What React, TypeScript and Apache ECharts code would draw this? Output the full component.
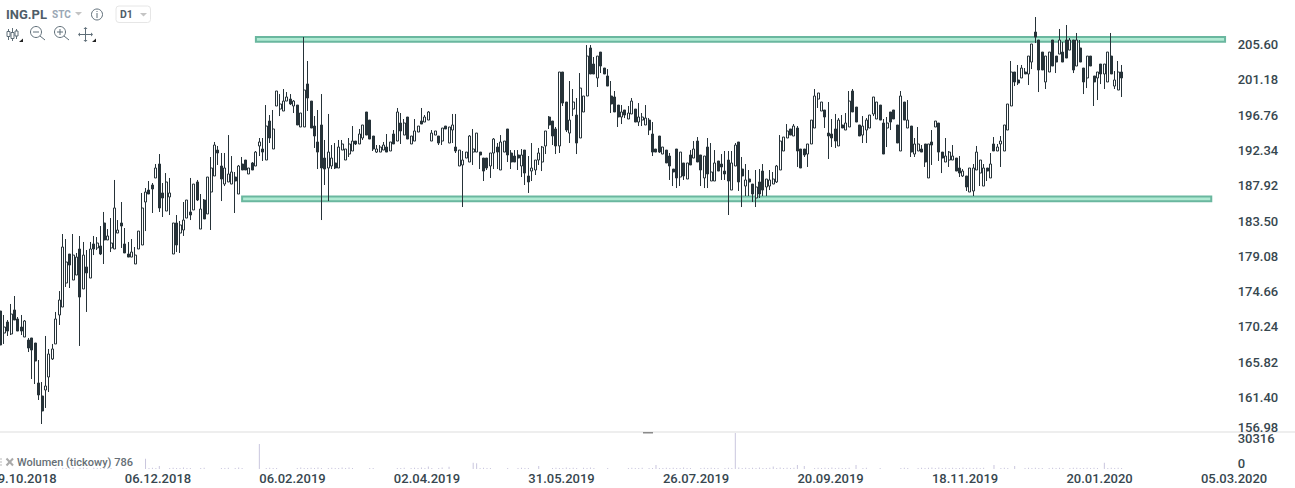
import React, { useEffect, useRef } from "react";
import * as echarts from "echarts";

// Each row: open, close, low, high
const candlesLate2018 = [
[172.23,167.97,167.97,172.23],[169.47,170.22,168.10,171.73],[170.85,169.72,169.10,171.10],[169.35,171.85,169.22,173.11],[172.36,171.10,171.10,174.11],
[171.23,169.72,169.72,171.48],[170.22,169.72,169.22,171.73],[168.97,170.98,168.97,171.10],[168.60,167.59,167.09,168.85],[168.85,167.34,163.71,168.85],
[168.22,165.96,163.08,168.22],[163.21,161.71,161.08,166.09],[161.58,159.70,158.07,163.33],[162.33,162.83,160.08,169.10],[163.96,166.84,162.08,167.47],
[166.22,167.47,166.09,168.10],[168.10,171.23,168.10,172.11],[171.73,173.61,170.48,174.73],[172.73,180.25,172.73,181.88],[175.74,178.37,175.24,181.25],
[179.37,177.99,175.11,179.37],[176.11,179.24,176.11,181.88],[176.74,178.99,176.74,179.50],[180.00,173.98,167.85,181.63],[174.99,179.24,174.99,180.88],
[177.75,177.00,172.11,179.87],[176.36,180.00,176.36,180.88],[180.63,180.00,179.24,181.63],[180.13,180.75,179.87,181.50],[180.38,179.37,179.24,182.88],
[183.26,181.13,178.12,184.64],[181.13,181.63,181.13,182.50],[180.13,180.75,179.62,183.88],[180.00,185.14,180.00,188.65],[182.00,182.38,182.00,183.63],
[183.26,182.88,180.13,185.89],[180.63,179.50,179.50,182.63],[179.37,178.99,178.99,180.88],[178.99,179.62,178.99,181.25],[178.12,179.24,178.12,180.25],
[180.00,182.25,180.00,182.25],[180.50,185.14,180.50,187.02],[185.89,187.14,182.25,187.64],[187.39,186.89,186.89,188.52],[188.02,187.52,184.51,188.27],
[188.90,190.15,188.90,190.65],[190.65,185.14,184.64,191.90],[187.02,186.39,184.01,188.27],[184.76,188.40,184.76,189.52],[186.52,187.02,184.26,188.90],
[179.37,183.26,179.37,183.26],[183.26,180.50,179.62,184.26],[182.00,183.01,179.50,183.51],[182.38,183.63,181.63,185.89],[183.88,186.14,183.88,186.14],
[184.64,184.26,183.63,188.90],[184.89,188.14,184.89,188.14],[188.40,186.14,186.01,188.65],[182.50,185.01,182.50,186.89],[186.14,183.76,183.76,186.26],
[184.39,189.02,184.39,189.02],[187.14,190.15,182.38,191.53],[189.15,193.03,189.15,193.41],[192.40,192.03,190.53,192.91],[190.40,188.77,186.01,192.03],
];
const candlesEarly2019 = [
[188.14,190.15,187.89,192.03],[188.40,189.40,188.40,194.28],[188.14,189.65,188.14,191.65],[189.02,188.52,184.51,189.65],[186.89,190.40,186.89,190.53],
[190.65,189.90,189.90,191.53],[191.15,189.90,189.90,191.15],[189.40,190.15,189.40,190.15],[190.78,189.90,189.90,190.90],[190.40,192.15,190.40,192.28],
[192.91,193.41,191.65,193.91],[192.53,192.15,191.03,193.91],[191.15,195.41,191.15,198.04],[196.04,193.91,193.28,196.79],[192.53,195.04,192.53,197.42],
[197.92,199.80,197.92,199.80],[197.54,198.17,196.66,199.42],[197.29,198.54,197.29,200.05],[198.54,199.05,198.54,199.67],[198.79,198.17,198.04,199.42],
[197.92,198.54,197.04,198.67],[198.04,195.54,195.54,198.04],[195.29,197.04,195.29,197.04],[195.29,199.92,195.29,206.56],[200.68,198.92,197.29,203.56],
[198.54,195.16,195.16,198.54],[195.41,194.16,192.66,196.66],[193.41,192.15,190.02,197.42],[195.54,190.15,183.63,199.42],[191.40,190.02,188.02,193.66],
[190.15,192.15,186.01,196.92],[190.40,191.40,190.02,193.03],[190.78,190.15,190.02,193.28],[190.15,192.78,190.15,193.66],[192.40,193.16,192.40,193.66],
[191.15,192.53,191.15,192.53],[191.90,193.16,191.53,193.91],[192.28,193.53,192.28,195.41],[193.53,193.16,193.03,193.53],[193.16,194.41,193.16,195.04],
[193.91,195.54,193.66,195.54],[197.17,194.28,194.28,197.17],[196.16,193.78,193.78,196.16],[194.16,192.53,192.28,194.16],[192.15,192.53,192.03,193.03],
[192.15,192.78,192.15,193.03],[192.40,193.03,192.40,193.41],[192.78,192.15,192.15,194.41],[192.28,193.41,192.28,193.41],[194.41,193.16,193.16,194.91],
[193.53,197.17,193.53,197.67],[195.79,194.79,193.16,197.04],[194.28,195.79,194.28,196.29],[196.54,193.78,193.78,196.54],[193.16,194.16,193.16,194.16],
[193.53,194.79,193.53,196.29],[194.66,195.41,194.66,195.41],[196.04,195.66,195.66,197.67],[195.91,196.54,195.91,196.79],[196.16,197.17,196.16,197.29],
];
const candlesSpring2019 = [
[193.53,194.53,193.53,194.91],[194.28,194.79,194.28,194.79],[194.16,193.28,193.03,194.16],[193.53,195.16,193.03,195.16],[195.41,195.04,195.04,195.41],
[193.28,195.29,193.28,195.29],[194.91,195.54,193.28,196.92],[192.78,192.28,192.03,196.92],[190.40,192.40,190.40,192.40],[190.53,191.15,185.26,192.28],
[191.40,192.15,191.40,192.15],[190.90,194.16,190.90,194.28],[192.15,192.53,190.53,195.04],[192.15,194.53,192.15,194.53],[192.15,191.78,190.02,192.15],
[191.40,189.77,188.52,191.40],[191.40,190.15,189.90,191.40],[190.40,192.03,188.90,192.03],[192.03,193.78,190.02,193.91],[192.78,192.15,190.02,193.28],
[189.90,193.41,189.90,194.28],[192.15,193.53,192.15,193.53],[195.04,191.78,190.90,195.04],[192.03,190.90,190.02,192.40],[191.65,190.90,190.90,192.40],
[191.78,191.40,189.90,192.40],[190.40,191.78,189.02,192.53],[192.40,189.52,188.02,192.40],[189.15,188.40,187.02,191.65],[189.77,190.15,188.52,193.28],
[189.90,191.15,189.27,191.15],[191.15,192.03,190.53,192.66],[190.90,192.78,189.77,192.91],[192.91,194.79,191.90,194.79],[196.54,195.54,195.04,196.66],
[196.04,194.16,193.03,196.04],[195.04,192.91,191.90,195.29],[192.91,202.18,192.03,202.18],[202.18,198.29,197.92,202.18],[198.42,194.91,194.66,198.42],
[194.53,196.16,193.28,201.05],[197.54,198.42,196.66,200.05],[196.79,193.28,191.90,198.92],[193.91,200.17,193.91,202.05],[197.17,199.17,197.17,199.17],
[199.17,204.18,199.17,205.56],[205.19,201.93,201.93,205.56],[203.18,201.93,201.93,204.06],[201.43,204.18,200.30,204.18],[204.68,202.93,202.05,204.68],
[202.68,201.93,201.93,202.68],[201.68,200.42,200.42,202.55],[199.17,198.17,197.04,201.05],[199.05,197.17,197.17,199.80],[198.04,196.54,195.29,198.04],
];
const candlesSummer2019 = [
[196.54,197.17,195.66,198.04],[197.42,196.79,196.41,197.42],[196.29,197.04,196.29,197.92],[196.92,198.54,196.92,198.92],[197.54,195.91,195.91,197.54],
[195.91,196.54,195.41,198.29],[196.16,196.54,195.41,197.04],[195.54,196.41,195.54,198.04],[196.16,194.91,194.28,196.41],[194.41,192.15,191.65,195.91],
[192.53,192.15,192.15,192.53],[194.16,192.15,192.03,194.16],[191.90,192.78,191.90,192.78],[192.40,190.78,190.78,192.40],[191.65,190.40,188.65,192.03],
[190.02,189.65,187.89,190.02],[192.53,188.90,187.64,192.53],[189.02,192.15,187.89,192.15],[190.78,189.15,188.65,190.78],[188.77,190.78,188.77,190.78],
[191.78,190.53,190.53,192.40],[191.40,192.53,191.40,193.53],[193.53,190.90,190.90,194.03],[191.78,189.90,187.89,191.78],[188.90,191.65,187.64,191.65],
[192.78,189.40,187.64,193.91],[188.52,189.65,188.52,193.28],[188.52,190.78,188.52,192.40],[191.03,189.77,189.77,191.03],[190.65,190.28,188.65,191.90],
[189.77,189.40,188.65,192.28],[191.15,188.52,184.26,192.28],[187.39,190.78,187.39,192.28],[190.40,193.03,190.40,193.28],[193.41,188.40,187.27,193.41],
[190.02,189.15,185.26,191.53],[187.89,188.65,186.64,190.65],[188.77,188.40,186.64,189.90],[188.14,186.89,185.89,188.14],[186.39,187.77,185.26,189.90],
[188.40,186.89,186.39,190.02],[189.77,187.39,186.64,190.65],[187.77,188.77,186.64,188.77],[187.89,188.65,187.39,189.90],[188.14,188.77,188.14,189.65],
[188.40,190.40,188.27,190.53],[189.90,193.53,189.90,194.28],[192.28,194.03,192.28,194.03],[193.91,194.79,193.91,195.66],[195.04,194.28,194.28,195.04],
[194.16,195.41,194.16,195.66],[195.16,192.28,190.28,195.41],[192.53,190.15,190.15,192.53],[192.53,191.78,191.53,192.53],[191.90,193.16,190.28,193.16],
[193.16,196.16,193.16,196.16],[195.16,199.17,195.16,200.05],[198.79,199.55,197.67,199.55],[197.29,198.42,197.29,198.42],[197.42,196.54,195.16,197.42],
];
const candlesAutumn2019 = [
[194.53,194.16,191.28,198.42],[194.41,193.91,192.78,196.29],[195.04,193.53,192.66,196.92],[192.91,196.16,192.91,196.41],[195.54,195.16,195.16,196.79],
[194.91,195.79,194.91,197.04],[195.29,198.54,195.29,199.80],[199.80,197.17,197.17,200.05],[197.79,195.91,195.91,197.79],[195.54,194.16,194.16,195.54],
[194.28,195.41,193.28,196.66],[194.91,196.16,193.28,196.41],[195.16,196.79,195.16,196.79],[196.92,199.05,196.66,199.05],[196.29,198.42,196.29,198.42],
[198.04,196.16,196.16,198.04],[195.79,191.90,191.90,196.29],[195.16,195.79,192.78,196.54],[197.17,195.91,194.91,197.17],[197.42,196.29,196.29,197.42],
[195.54,193.28,193.28,195.54],[192.28,199.17,192.28,199.80],[198.42,196.16,196.16,198.42],[195.16,196.16,195.16,198.67],[195.41,192.15,191.53,195.41],
[191.90,193.16,191.53,193.91],[192.28,193.16,192.28,195.29],[192.53,192.15,192.15,193.03],[193.16,190.90,190.28,193.16],[188.90,193.16,188.90,193.16],
[193.41,193.03,190.53,194.91],[195.29,196.04,195.29,196.04],[195.79,192.15,191.03,195.79],[192.15,191.40,189.52,192.15],[190.90,191.65,190.90,193.91],
[191.15,192.15,190.28,192.28],[191.15,191.65,191.15,193.03],[191.40,189.77,189.77,191.40],[190.15,189.52,189.02,191.65],[189.15,189.77,189.02,190.02],
[189.15,187.77,187.27,189.15],[187.14,190.15,187.14,190.15],[187.27,190.15,186.64,190.65],[189.90,192.15,189.90,192.91],[189.52,191.15,187.89,191.15],
[187.89,190.15,187.89,190.65],[190.15,189.77,188.52,190.15],
];
const candlesWinter2020 = [
[188.90,190.65,188.90,192.03],[193.16,192.28,192.28,194.03],[192.28,192.78,192.28,193.16],[193.16,193.53,190.28,194.16],[192.28,195.54,192.28,195.54],
[194.91,198.17,194.91,198.17],[197.92,202.18,197.92,203.56],[202.18,200.93,200.42,202.18],[201.18,200.80,200.55,203.06],[201.43,202.68,201.43,203.06],
[202.18,201.93,201.93,202.68],[201.93,204.18,200.55,204.18],[203.43,205.69,202.55,205.69],[207.19,206.56,205.81,209.07],[206.19,202.43,199.67,206.19],
[204.68,202.43,202.43,204.68],[200.93,204.18,200.05,204.18],[202.18,204.68,202.18,204.68],[206.19,202.93,202.93,206.19],[204.18,203.43,202.05,204.18],
[204.43,206.19,204.43,207.57],[204.68,203.43,203.43,205.94],[206.19,203.93,203.93,208.07],[204.93,206.19,204.93,206.44],[206.19,202.43,202.05,206.19],
[202.93,206.19,202.93,207.07],[205.19,203.43,203.43,206.19],[202.68,200.93,199.42,202.68],[201.43,204.18,200.17,204.18],[204.18,202.93,202.93,204.18],
[201.68,200.93,197.92,201.68],[201.43,202.18,198.67,202.18],[203.18,201.93,200.67,203.18],[201.93,203.18,200.05,203.18],[200.93,204.68,200.93,204.68],
[204.18,201.93,201.93,207.07],[200.42,201.18,200.05,202.30],[199.92,202.18,199.92,203.56],[202.18,201.43,199.05,203.06],
];

const volumes = [
0,0,0,0,0,0,0,0,0,0,0,0,0,0,0,0,900,0,1100,900,
900,1200,0,900,1300,900,0,1100,900,900,1200,900,900,0,0,0,0,0,0,0,
0,0,8700,900,1100,900,2600,0,0,900,1100,900,900,1300,900,900,0,0,900,1100,
0,0,0,0,900,900,1100,0,900,1200,900,0,0,0,0,21000,0,900,1000,900,
900,0,0,0,0,0,900,1300,900,900,1100,900,1300,900,0,900,1100,900,900,1200,
900,1300,900,0,0,0,0,900,900,0,0,0,0,0,0,900,900,1100,0,900,
1000,900,1300,900,2200,900,0,900,1300,0,2000,0,0,0,0,0,0,5200,4800,900,
1000,900,900,0,0,0,0,900,0,0,900,1100,900,900,0,0,2600,0,0,0,
900,1100,900,900,1300,900,1000,900,0,1100,900,1200,900,0,0,0,900,0,0,0,
0,0,900,1100,900,900,1000,0,900,900,3400,900,900,1100,900,1000,900,900,1200,900,
900,0,0,900,1100,900,1000,900,900,0,900,1100,900,30316,1300,900,1100,900,1000,900,
1200,900,900,1000,2200,900,1300,900,1000,900,1100,3400,0,2600,0,0,900,1100,900,1000,
900,1300,900,1000,900,900,1100,0,3400,0,900,1000,0,0,0,900,0,0,0,0,
0,900,1000,900,0,0,900,1100,900,1000,1300,900,1200,900,1000,900,1100,900,900,1300,
900,1000,900,1100,900,1000,0,0,3400,0,900,1100,900,0,2600,0,0,900,1000,900,
1100,900,900,0,900,1000,900,1100,900,0,900,1000,1100,900,900,1000,900,1100,900,0,
5200,900,1100,900,1000,786,
];

const dateLabels = ["09.10.2018","06.12.2018","06.02.2019","02.04.2019","31.05.2019","26.07.2019","20.09.2019","18.11.2019","20.01.2020","05.03.2020"];
const LEAD = 3;
const SLOTS = 361;
const LABEL_EVERY = 39;
const resistanceZone = { fromSlot: 77, toSlot: 358, top: 206.56, bottom: 205.97 };
const supportZone = { fromSlot: 73, toSlot: 354, top: 186.58, bottom: 185.99 };
const candles = [...candlesLate2018, ...candlesEarly2019, ...candlesSpring2019, ...candlesSummer2019, ...candlesAutumn2019, ...candlesWinter2020];

const DARK = "#263238";
const ICON = "#5f6e78";
const slotNames = Array.from({ length: SLOTS }, (_, i) => (i % LABEL_EVERY === 0 ? dateLabels[i / LABEL_EVERY] : `s${i}`));
const lead = (n: number, v: any) => Array.from({ length: n }, () => v);

const zone = (z: typeof resistanceZone) => [
  { coord: [slotNames[z.fromSlot], z.top] },
  { coord: [slotNames[z.toSlot], z.bottom] },
];

const line = (x1: number, y1: number, x2: number, y2: number, width = 1, color = ICON) => ({
  type: "line", shape: { x1, y1, x2, y2 }, style: { stroke: color, lineWidth: width }, silent: true,
});
const tri = (pts: number[][], color: string) => ({ type: "polygon", shape: { points: pts }, style: { fill: color }, silent: true });
const txt = (x: number, y: number, text: string, font: string, fill: string) => ({
  type: "text", x, y, silent: true, style: { text, font, fill, textVerticalAlign: "middle", verticalAlign: "middle" },
});
const lens = (cx: number, cy: number) => [
  { type: "circle", shape: { cx, cy, r: 5.5 }, style: { fill: "none", stroke: ICON, lineWidth: 1 }, silent: true },
  line(cx + 4, cy + 4, cx + 9, cy + 8),
  line(cx - 3, cy, cx + 3, cy),
];

const graphics: any[] = [
  { type: "rect", shape: { x: 0, y: 431.5, width: 1295, height: 1 }, style: { fill: "#dddddd" }, silent: true },
  { type: "rect", shape: { x: 643, y: 432, width: 10, height: 1.5 }, style: { fill: "#8a8a8a" }, silent: true },
  txt(6, 14, "ING.PL", "bold 13px Roboto", "#4f5d68"),
  txt(52, 14, "STC", "bold 10px Roboto", "#9aa7b5"),
  tri([[75, 12], [82, 12], [78.5, 15.5]], "#c4c4c4"),
  { type: "circle", shape: { cx: 97, cy: 14.5, r: 5.5 }, style: { fill: "none", stroke: ICON, lineWidth: 1 }, silent: true },
  line(97, 13, 97, 18),
  line(97, 11, 97, 12),
  { type: "rect", shape: { x: 116, y: 6, width: 34.5, height: 16.5, r: 3 }, style: { fill: "#fff", stroke: "#e6e6e6", lineWidth: 1 }, silent: true },
  txt(120, 14.5, "D1", "bold 10.5px Roboto", "#4f5d68"),
  tri([[140, 13], [147, 13], [143.5, 16.5]], "#c4c4c4"),
  line(8.5, 29, 8.5, 40), { type: "rect", shape: { x: 7, y: 31.5, width: 3, height: 5 }, style: { fill: "#fff", stroke: ICON }, silent: true },
  line(12.5, 28, 12.5, 41), { type: "rect", shape: { x: 11, y: 32.5, width: 3, height: 6 }, style: { fill: "#fff", stroke: ICON }, silent: true },
  line(16.5, 29, 16.5, 39), { type: "rect", shape: { x: 15, y: 31, width: 3, height: 5 }, style: { fill: "#fff", stroke: ICON }, silent: true },
  tri([[19, 42], [23, 42], [23, 38.5]], "#222"),
  ...lens(36, 32),
  ...lens(60, 32),
  line(60, 29, 60, 35),
  line(85.5, 28, 85.5, 41), line(79, 34.5, 92, 34.5),
  tri([[83.5, 29], [87.5, 29], [85.5, 27]], ICON), tri([[83.5, 40], [87.5, 40], [85.5, 42]], ICON),
  tri([[80, 32.5], [80, 36.5], [78, 34.5]], ICON), tri([[91, 32.5], [91, 36.5], [93, 34.5]], ICON),
  tri([[92, 42], [96, 42], [96, 38.5]], "#222"),
  line(0, 459, 2, 459, 1, "#bbbbbb"), line(0, 462, 2, 462, 1, "#bbbbbb"), line(0, 465, 2, 465, 1, "#bbbbbb"),
  line(6.5, 458.5, 13, 465.5, 2, "#aaaaaa"), line(13, 458.5, 6.5, 465.5, 2, "#aaaaaa"),
  txt(17, 462.5, "Wolumen (tickowy) 786", "500 11px Roboto", "#666f76"),
];

export default function App() {
  const ref = useRef<HTMLDivElement>(null);
  useEffect(() => {
    const chart = echarts.init(ref.current!, undefined, { renderer: "svg" });
    const plot = { left: -11.4, width: 3.449 * SLOTS, outerBoundsMode: "none" };
    const axisText = { color: "#37474f", fontFamily: "Roboto", fontSize: 13, fontWeight: 500 };
    chart.setOption({
      animation: false,
      backgroundColor: "#ffffff",
      grid: [
        { ...plot, top: 12, height: 420.7 },
        { ...plot, top: 433, height: 36 },
      ],
      xAxis: [
        { type: "category", gridIndex: 0, data: slotNames, show: false },
        {
          type: "category", gridIndex: 1, data: slotNames,
          axisLine: { show: false }, axisTick: { show: false }, splitLine: { show: false },
          axisLabel: {
            ...axisText, align: "left", margin: 3, hideOverlap: false,
            interval: (i: number) => i % LABEL_EVERY === 0,
          },
        },
      ],
      yAxis: [
        {
          type: "value", gridIndex: 0, position: "right", min: 156.98, max: 209.7, interval: 4.42,
          axisLine: { show: false }, axisTick: { show: false }, splitLine: { show: false },
          axisLabel: {
            ...axisText, lineHeight: 11, margin: 4, showMaxLabel: false, verticalAlignMinLabel: "bottom",
            formatter: (v: number) => v.toFixed(2),
          },
        },
        {
          type: "value", gridIndex: 1, position: "right", min: 0, max: 30316, interval: 30316,
          axisLine: { show: false }, axisTick: { show: false }, splitLine: { show: false },
          axisLabel: {
            ...axisText, lineHeight: 11, margin: 4, verticalAlignMinLabel: "bottom", verticalAlignMaxLabel: "top",
            formatter: (v: number) => String(v),
          },
        },
      ],
      series: [
        {
          type: "candlestick", xAxisIndex: 0, yAxisIndex: 0, barWidth: 2.5,
          data: [...lead(LEAD, ["-", "-", "-", "-"]), ...candles],
          itemStyle: { color: "#ffffff", color0: DARK, borderColor: DARK, borderColor0: DARK, borderWidth: 1 },
          markArea: {
            silent: true,
            itemStyle: { color: "#b0ead3", borderColor: "#6ab79f", borderWidth: 2 },
            data: [zone(resistanceZone), zone(supportZone)],
          },
        },
        {
          type: "bar", xAxisIndex: 1, yAxisIndex: 1, barWidth: 1, silent: true,
          itemStyle: { color: "#c9c6de" },
          data: [...lead(LEAD, 0), ...volumes],
        },
      ],
      graphic: graphics,
    });
    return () => chart.dispose();
  }, []);
  return <div ref={ref} style={{ position: "fixed", left: 0, top: 0, width: 1295, height: 488 }} />;
}
